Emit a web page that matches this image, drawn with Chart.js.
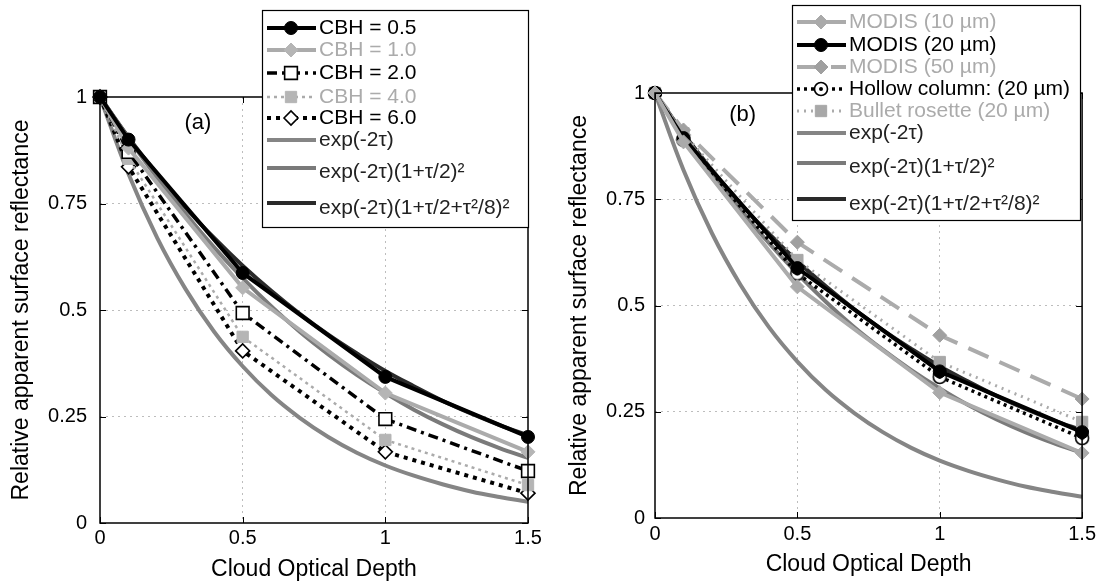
<!DOCTYPE html>
<html>
<head>
<meta charset="utf-8">
<script src="https://cdn.jsdelivr.net/npm/chart.js@4.4.1/dist/chart.umd.min.js"></script>
<style>
  body { margin: 0; background: #fff; }
  #wrap { position: relative; width: 1100px; height: 584px; }
  canvas { position: absolute; top: 0; }
</style>
</head>
<body>
<div id="wrap">
  <canvas id="chartA" width="550" height="584" style="left:0"></canvas>
  <canvas id="chartB" width="550" height="584" style="left:550px"></canvas>
</div>
<script>
// optical depths where the simulations were run
const tauPts = [0, 0.1, 0.5, 1, 1.5];

// panel (a): cloud base height series
const cbh05 = [1, 0.9, 0.587, 0.343, 0.202];
const cbh10 = [1, 0.88, 0.552, 0.305, 0.167];
const cbh20 = [1, 0.871, 0.493, 0.244, 0.122];
const cbh40 = [1, 0.855, 0.437, 0.195, 0.089];
const cbh60 = [1, 0.836, 0.404, 0.167, 0.07];

// panel (b): particle size / habit series
const modis10 = [1, 0.885, 0.544, 0.295, 0.153];
const modis20 = [1, 0.894, 0.588, 0.345, 0.202];
const modis50 = [1, 0.913, 0.649, 0.43, 0.28];
const hollow20 = [1, 0.89, 0.575, 0.332, 0.188];
const bullet20 = [1, 0.905, 0.607, 0.367, 0.226];

// analytic reference curves
const tauFine = [0, 0.1, 0.2, 0.3, 0.4, 0.5, 0.6, 0.7, 0.8, 0.9, 1.0, 1.1, 1.2, 1.3, 1.4, 1.5];
const expA = [1, 0.819, 0.670, 0.549, 0.449, 0.368, 0.301, 0.247, 0.202, 0.165, 0.135, 0.111, 0.091, 0.074, 0.061, 0.050];
const expB = [1, 0.903, 0.811, 0.726, 0.647, 0.575, 0.509, 0.449, 0.396, 0.348, 0.305, 0.266, 0.232, 0.202, 0.176, 0.153];
const expC = [1, 0.905, 0.819, 0.740, 0.669, 0.604, 0.545, 0.491, 0.442, 0.398, 0.357, 0.321, 0.287, 0.257, 0.230, 0.206];

const xTicks = [0, 0.5, 1, 1.5];
const yTicks = [0, 0.25, 0.5, 0.75, 1];

const FONT = '"Liberation Sans", Arial, sans-serif';
Chart.defaults.font.family = FONT;
Chart.defaults.color = "#000";

const GRAY = "#ababab";

function pts(xs, ys) {
  return xs.map((x, i) => ({ x: x, y: ys[i] }));
}

// circle with a dot in the middle (hollow column marker)
function dotCircle() {
  const c = document.createElement("canvas");
  c.width = 16;
  c.height = 16;
  const g = c.getContext("2d");
  g.fillStyle = "#fff";
  g.strokeStyle = "#000";
  g.lineWidth = 1.6;
  g.beginPath();
  g.arc(8, 8, 6.5, 0, Math.PI * 2);
  g.fill();
  g.stroke();
  g.fillStyle = "#000";
  g.beginPath();
  g.arc(8, 8, 2, 0, Math.PI * 2);
  g.fill();
  return c;
}

function series(label, xs, ys, style) {
  return Object.assign(
    {
      label: label,
      data: pts(xs, ys),
      fill: false,
      tension: 0,
      clip: false,
      pointRadius: 0,
      borderDash: [],
    },
    style
  );
}

function curve(label, ys, color) {
  return series(label, tauFine, ys, {
    borderColor: color,
    borderWidth: 4,
    tension: 0.4,
    textColor: "#222",
  });
}

// legend marker, same shapes as the chart points
function drawMarker(ctx, ds, x, y) {
  const r = ds.pointRadius;
  if (!r) return;
  const st = ds.pointStyle;
  if (st instanceof HTMLCanvasElement) {
    ctx.drawImage(st, x - st.width / 2, y - st.height / 2);
    return;
  }
  ctx.save();
  ctx.setLineDash([]);
  ctx.fillStyle = ds.pointBackgroundColor;
  ctx.strokeStyle = ds.pointBorderColor;
  ctx.lineWidth = ds.pointBorderWidth;
  ctx.beginPath();
  if (st === "rect") {
    const s = r * Math.SQRT1_2;
    ctx.rect(x - s, y - s, 2 * s, 2 * s);
  } else if (st === "rectRot") {
    ctx.moveTo(x - r, y);
    ctx.lineTo(x, y - r);
    ctx.lineTo(x + r, y);
    ctx.lineTo(x, y + r);
    ctx.closePath();
  } else {
    ctx.arc(x, y, r, 0, Math.PI * 2);
  }
  ctx.fill();
  if (ds.pointBorderWidth) ctx.stroke();
  ctx.restore();
}

// draws the box, inward ticks, panel tag and the in-plot legend
const panelDecor = {
  id: "panelDecor",
  afterDraw(chart, args, opts) {
    const { ctx, chartArea: a } = chart;
    const sx = chart.scales.x;
    const sy = chart.scales.y;
    ctx.save();

    // inward tick marks on all four sides
    ctx.strokeStyle = "#000";
    ctx.lineWidth = 1;
    ctx.beginPath();
    sx.ticks.forEach((t) => {
      const px = Math.round(sx.getPixelForValue(t.value)) + 0.5;
      ctx.moveTo(px, a.bottom);
      ctx.lineTo(px, a.bottom - 6);
      ctx.moveTo(px, a.top);
      ctx.lineTo(px, a.top + 6);
    });
    sy.ticks.forEach((t) => {
      const py = Math.round(sy.getPixelForValue(t.value)) + 0.5;
      ctx.moveTo(a.left, py);
      ctx.lineTo(a.left + 6, py);
      ctx.moveTo(a.right, py);
      ctx.lineTo(a.right - 6, py);
    });
    ctx.stroke();
    ctx.lineWidth = 1.5;
    ctx.strokeRect(a.left, a.top, a.right - a.left, a.bottom - a.top);

    // panel tag
    ctx.font = "22px " + FONT;
    ctx.fillStyle = "#000";
    ctx.textAlign = "center";
    ctx.textBaseline = "middle";
    ctx.fillText(opts.tag, sx.getPixelForValue(opts.tagAt[0]), sy.getPixelForValue(opts.tagAt[1]));

    // legend box
    const L = opts.legend;
    ctx.fillStyle = "#fff";
    ctx.fillRect(L.left, L.top, L.width, L.height);
    ctx.lineWidth = 1.2;
    ctx.strokeStyle = "#000";
    ctx.strokeRect(L.left + 0.5, L.top + 0.5, L.width, L.height);

    ctx.textAlign = "left";
    ctx.font = "21px " + FONT;
    chart.data.datasets.forEach((ds, i) => {
      const ly = L.top + L.rows[i];
      ctx.save();
      ctx.strokeStyle = ds.borderColor;
      ctx.lineWidth = ds.borderWidth;
      ctx.setLineDash(ds.borderDash || []);
      ctx.beginPath();
      ctx.moveTo(L.left + 5, ly);
      ctx.lineTo(L.left + 54, ly);
      ctx.stroke();
      ctx.restore();
      drawMarker(ctx, ds, L.left + 29, ly);
      ctx.fillStyle = ds.textColor || ds.borderColor;
      ctx.fillText(ds.label, L.left + 57, ly + (L.textDy[i] || 0));
    });
    ctx.restore();
  },
};

function edgeFree(lo, hi) {
  return (c) =>
    c.tick && (c.tick.value === lo || c.tick.value === hi) ? "rgba(0,0,0,0)" : "#bdbdbd";
}

function makeOptions(cfg) {
  return {
    responsive: false,
    animation: false,
    events: [],
    layout: { padding: cfg.padding },
    scales: {
      x: {
        type: "linear",
        min: 0,
        max: 1.5,
        afterBuildTicks: (s) => {
          s.ticks = xTicks.map((v) => ({ value: v }));
        },
        afterFit: (s) => {
          s.height = cfg.xHeight;
        },
        grid: { color: edgeFree(0, 1.5), drawTicks: false, lineWidth: 1 },
        border: { display: false, dash: [2, 4] },
        ticks: {
          padding: cfg.xTickPad,
          font: { size: 20 },
          color: "#000",
          callback: (v) => String(v),
        },
        title: {
          display: true,
          text: "Cloud Optical Depth",
          font: { size: 23 },
          padding: { top: 0, bottom: cfg.xTitlePad },
        },
      },
      y: {
        type: "linear",
        min: 0,
        max: 1,
        afterBuildTicks: (s) => {
          s.ticks = yTicks.map((v) => ({ value: v }));
        },
        afterFit: (s) => {
          s.width = cfg.yWidth;
        },
        grid: { color: edgeFree(0, 1), drawTicks: false, lineWidth: 1 },
        border: { display: false, dash: [2, 4] },
        ticks: {
          padding: cfg.yTickPad,
          font: { size: 20 },
          color: "#000",
          callback: (v) => String(v),
        },
        title: {
          display: true,
          text: "Relative apparent surface reflectance",
          font: { size: 23 },
          padding: { top: 8, bottom: 0 },
        },
      },
    },
    plugins: {
      legend: { display: false },
      tooltip: { enabled: false },
      panelDecor: cfg.decor,
    },
  };
}

const hollowMark = dotCircle();

const datasetsA = [
  series("CBH = 0.5", tauPts, cbh05, {
    borderColor: "#000", borderWidth: 4, pointStyle: "circle", pointRadius: 6.5,
    pointBackgroundColor: "#000", pointBorderColor: "#000", pointBorderWidth: 1,
  }),
  series("CBH = 1.0", tauPts, cbh10, {
    borderColor: GRAY, borderWidth: 4, pointStyle: "rectRot", pointRadius: 7,
    pointBackgroundColor: "#b5b5b5", pointBorderColor: "#b5b5b5", pointBorderWidth: 1,
  }),
  series("CBH = 2.0", tauPts, cbh20, {
    borderColor: "#000", borderWidth: 3.5, borderDash: [10, 5, 3, 5], pointStyle: "rect", pointRadius: 9,
    pointBackgroundColor: "#fff", pointBorderColor: "#000", pointBorderWidth: 1.6,
  }),
  series("CBH = 4.0", tauPts, cbh40, {
    borderColor: GRAY, borderWidth: 2.5, borderDash: [3, 4], pointStyle: "rect", pointRadius: 8,
    pointBackgroundColor: "#b5b5b5", pointBorderColor: "#b5b5b5", pointBorderWidth: 1,
  }),
  series("CBH = 6.0", tauPts, cbh60, {
    borderColor: "#000", borderWidth: 4, borderDash: [4, 5], pointStyle: "rectRot", pointRadius: 7,
    pointBackgroundColor: "#fff", pointBorderColor: "#000", pointBorderWidth: 1.6,
  }),
  curve("exp(-2τ)", expA, "#858585"),
  curve("exp(-2τ)(1+τ/2)²", expB, "#7a7a7a"),
  curve("exp(-2τ)(1+τ/2+τ²/8)²", expC, "#2a2a2a"),
];

const datasetsB = [
  series("MODIS (10 µm)", tauPts, modis10, {
    borderColor: GRAY, borderWidth: 4, pointStyle: "rectRot", pointRadius: 7,
    pointBackgroundColor: "#aaa", pointBorderColor: "#aaa", pointBorderWidth: 1,
  }),
  series("MODIS (20 µm)", tauPts, modis20, {
    borderColor: "#000", borderWidth: 4, pointStyle: "circle", pointRadius: 6.5,
    pointBackgroundColor: "#000", pointBorderColor: "#000", pointBorderWidth: 1,
  }),
  series("MODIS (50 µm)", tauPts, modis50, {
    borderColor: GRAY, borderWidth: 4, borderDash: [22, 12], pointStyle: "rectRot", pointRadius: 7,
    pointBackgroundColor: "#a0a0a0", pointBorderColor: "#a0a0a0", pointBorderWidth: 1,
  }),
  series("Hollow column: (20 µm)", tauPts, hollow20, {
    borderColor: "#000", borderWidth: 3.5, borderDash: [3, 4], pointStyle: hollowMark, pointRadius: 7,
    pointBackgroundColor: "#fff", pointBorderColor: "#000", pointBorderWidth: 1.6,
  }),
  series("Bullet rosette (20 µm)", tauPts, bullet20, {
    borderColor: GRAY, borderWidth: 3, borderDash: [2, 5], pointStyle: "rect", pointRadius: 8,
    pointBackgroundColor: "#a8a8a8", pointBorderColor: "#a8a8a8", pointBorderWidth: 1,
  }),
  curve("exp(-2τ)", expA, "#858585"),
  curve("exp(-2τ)(1+τ/2)²", expB, "#7a7a7a"),
  curve("exp(-2τ)(1+τ/2+τ²/8)²", expC, "#2a2a2a"),
];

new Chart(document.getElementById("chartA").getContext("2d"), {
  type: "line",
  data: { datasets: datasetsA },
  options: makeOptions({
    padding: { top: 97, right: 22, left: 0, bottom: 0 },
    xHeight: 61,
    yWidth: 100,
    xTickPad: 3,
    yTickPad: 13,
    xTitlePad: 1,
    decor: {
      tag: "(a)",
      tagAt: [0.343, 0.939],
      legend: {
        left: 262, top: 10, width: 266, height: 217,
        rows: [18, 40, 63, 87, 108, 130, 158, 193],
        textDy: [0, 0, 0, 0, 0, 0, 4, 5],
      },
    },
  }),
  plugins: [panelDecor],
});

new Chart(document.getElementById("chartB").getContext("2d"), {
  type: "line",
  data: { datasets: datasetsB },
  options: makeOptions({
    padding: { top: 93, right: 16, left: 8, bottom: 0 },
    xHeight: 66,
    yWidth: 97,
    xTickPad: 4,
    yTickPad: 10,
    xTitlePad: 6,
    decor: {
      tag: "(b)",
      tagAt: [0.308, 0.948],
      legend: {
        left: 242, top: 5, width: 288, height: 215,
        rows: [17, 40, 62, 84, 106, 128, 158, 194],
        textDy: [0, 0, 0, 0, 0, 0, 4, 5],
      },
    },
  }),
  plugins: [panelDecor],
});
</script>
</body>
</html>
